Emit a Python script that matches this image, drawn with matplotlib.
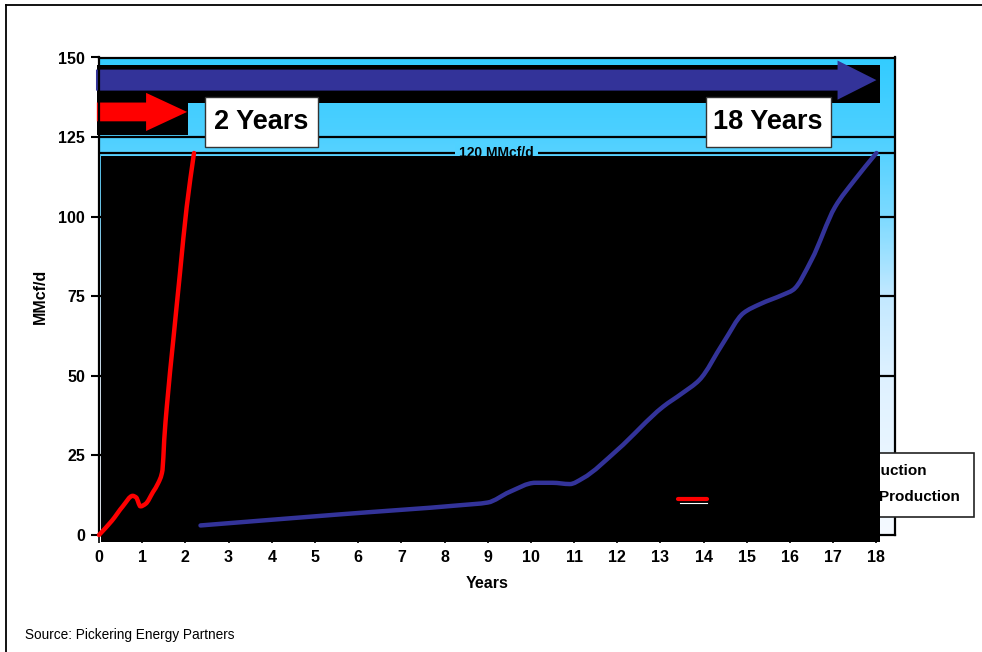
import numpy as np
import matplotlib
matplotlib.use("Agg")
import matplotlib.pyplot as plt
from matplotlib.patches import Rectangle, Polygon, PathPatch
from matplotlib.path import Path
from matplotlib.colors import LinearSegmentedColormap
from matplotlib.lines import Line2D

# Production ramp to 120 MMcf/d (year, MMcf/d)
years_fast = [0.0, 0.3, 0.55, 0.78, 0.86, 0.96, 1.08, 1.25, 1.37, 1.47, 1.51, 1.57,
              1.72, 1.875, 2.03, 2.2]
rate_fast = [0.0, 4.5, 9.0, 12.3, 11.8, 9.0, 9.8, 13.5, 16.3, 20.4, 29.9, 40.3,
             61.3, 82.3, 103.0, 120.0]

years_slow = [2.35, 5.5, 8.4, 9.0, 9.5, 10.1, 10.5, 10.9, 11.2, 12.0, 13.06, 13.5,
              13.9, 14.45, 14.92, 15.3, 15.84, 16.07, 16.5, 17.04, 17.5, 18.0]
rate_slow = [3.0, 6.4, 9.4, 10.2, 13.5, 16.4, 16.4, 16.0, 17.8, 26.7, 40.3, 44.5,
             48.7, 60.3, 69.7, 72.5, 75.5, 77.0, 86.5, 103.0, 111.6, 120.0]

x_ticks = list(range(0, 19))
y_ticks = [0, 25, 50, 75, 100, 125, 150]
span_years = [2, 18]
span_labels = ["2 Years", "18 Years"]
target_rate = 120
target_label = "120 MMcf/d"
legend_labels = ["Barnett Shale Production", "Haynesville Shale Production"]
source_text = "Source: Pickering Energy Partners"

RED = "#FF0000"
BLUE = "#333399"
FONT = ["Liberation Sans", "DejaVu Sans"]
W, H = 982, 652


def fx(px):
    return px / W


def fy(py):
    return 1 - py / H


def smooth_path(xs, ys):
    """Shape-preserving cubic bezier through the points (smoothed line)."""
    x = np.asarray(xs, float)
    y = np.asarray(ys, float)
    h = np.diff(x)
    d = np.diff(y) / h
    n = len(x)
    m = np.zeros(n)
    m[0], m[-1] = d[0], d[-1]
    for i in range(1, n - 1):
        if d[i - 1] * d[i] <= 0:
            m[i] = 0.0
        else:
            w1 = 2 * h[i] + h[i - 1]
            w2 = h[i] + 2 * h[i - 1]
            m[i] = (w1 + w2) / (w1 / d[i - 1] + w2 / d[i])
    verts = [(x[0], y[0])]
    codes = [Path.MOVETO]
    for i in range(n - 1):
        verts += [(x[i] + h[i] / 3, y[i] + m[i] * h[i] / 3),
                  (x[i + 1] - h[i] / 3, y[i + 1] - m[i + 1] * h[i] / 3),
                  (x[i + 1], y[i + 1])]
        codes += [Path.CURVE4] * 3
    return Path(verts, codes)


fig = plt.figure(figsize=(W / 100, H / 100), dpi=100)
fig.patch.set_facecolor("white")

ax = fig.add_axes([fx(99), fy(535), fx(895) - fx(99), fy(57.5) - fy(535)])
XMAX = 18.43
ax.set_xlim(0, XMAX)
ax.set_ylim(0, 150)

# gradient plot-area fill
bg = LinearSegmentedColormap.from_list(
    "bg",
    [(0.0, (245 / 255, 250 / 255, 1.0)),
     (1 / 3, (222 / 255, 241 / 255, 1.0)),
     (0.5, (195 / 255, 233 / 255, 1.0)),
     (2 / 3, (125 / 255, 218 / 255, 1.0)),
     (5 / 6, (78 / 255, 208 / 255, 1.0)),
     (1.0, (51 / 255, 204 / 255, 1.0))])
grad = np.linspace(0, 1, 300).reshape(-1, 1)
ax.imshow(grad, extent=[0, XMAX, 0, 150], origin="lower", aspect="auto",
          cmap=bg, zorder=0, interpolation="bilinear")

# horizontal gridlines and target line
for yv in y_ticks[1:-1]:
    ax.axhline(yv, color="black", lw=1.6, zorder=1)
ax.axhline(target_rate, color="black", lw=1.6, zorder=1)
ax.text(9.2, target_rate, target_label, ha="center", va="center", fontsize=10,
        fontweight="bold", family=FONT, zorder=1.2,
        bbox=dict(boxstyle="square,pad=0.3", fc=(80 / 255, 209 / 255, 1.0), ec="none"))

# black chart-area fill
ax.add_patch(Rectangle((0.05, -2.2), 18.03, 121.4, fc="black", ec="none",
                       zorder=2.6, clip_on=False))

# span arrows with their dark backing
ax.add_patch(Rectangle((-0.05, 135.8), 18.13, 12.0, fc="black", ec="none",
                       zorder=1.5, clip_on=False))
ax.add_patch(Rectangle((-0.05, 125.8), 2.11, 22.0, fc="black", ec="none",
                       zorder=1.5, clip_on=False))


def block_arrow(x0, tip, yc, shaft_half, head_half, head_len, color):
    base = tip - head_len
    pts = [(x0, yc - shaft_half), (base, yc - shaft_half), (base, yc - head_half),
           (tip, yc), (base, yc + head_half), (base, yc + shaft_half),
           (x0, yc + shaft_half)]
    ax.add_patch(Polygon(pts, closed=True, fc=color, ec="none", zorder=1.6,
                         clip_on=False))


block_arrow(-0.07, span_years[1], 142.9, 3.3, 6.15, 0.9, BLUE)
block_arrow(-0.05, span_years[0] + 0.04, 132.9, 2.95, 6.0, 0.95, RED)

# span label boxes
for (x0, x1), lab in zip([(2.45, 5.07), (14.05, 16.94)], span_labels):
    ax.add_patch(Rectangle((x0, 122.0), x1 - x0, 15.7, fc="white", ec="#333333",
                           lw=1, zorder=3))
    ax.text((x0 + x1) / 2, 129.6, lab, ha="center", va="center", fontsize=19.5,
            fontweight="bold", family=FONT, zorder=3.1)

# legend box (partly under the black area)
ax.add_patch(Rectangle((fx(670), fy(517)), fx(974) - fx(670), fy(453) - fy(517),
                       transform=fig.transFigure, fc="white", ec="#222222", lw=1.2,
                       zorder=2.55, clip_on=False))
ax.text(fx(927), fy(471), legend_labels[0], transform=fig.transFigure, ha="right",
        va="center", fontsize=11, fontweight="bold", family=FONT, zorder=2.56)
ax.text(fx(960), fy(497), legend_labels[1], transform=fig.transFigure, ha="right",
        va="center", fontsize=11, fontweight="bold", family=FONT, zorder=2.56)
ax.plot([13.45, 14.07], [10.1, 10.1], color="white", lw=0.8, zorder=3.9)
ax.plot([13.4, 14.07], [11.3, 11.3], color=RED, lw=3, solid_capstyle="round",
        zorder=4)

# production curves
ax.add_patch(PathPatch(smooth_path(years_slow, rate_slow), fc="none", ec=BLUE,
                       lw=3.2, capstyle="round", joinstyle="round", zorder=4,
                       clip_on=False))
ax.add_patch(PathPatch(smooth_path(years_fast, rate_fast), fc="none", ec=RED,
                       lw=3.2, capstyle="round", joinstyle="round", zorder=4,
                       clip_on=False))

# axes styling
for sp in ax.spines.values():
    sp.set_linewidth(1.6)
    sp.set_color("black")
ax.set_xticks(x_ticks)
ax.set_yticks(y_ticks)
ax.tick_params(axis="y", length=6, width=1.5, pad=4, direction="out")
ax.tick_params(axis="x", length=6, width=1.2, pad=5, direction="out")
for lab in ax.get_xticklabels() + ax.get_yticklabels():
    lab.set_fontweight("bold")
    lab.set_fontsize(11.5)
    lab.set_family(FONT)

fig.text(fx(487), fy(584), "Years", ha="center", va="center", fontsize=11.5,
         fontweight="bold", family=FONT)
fig.text(fx(40), fy(296), "MMcf/d", ha="center", va="center", rotation=90,
         fontsize=11.5, fontweight="bold", family=FONT)
fig.text(fx(25), fy(635), source_text, ha="left", va="center", fontsize=9.8,
         family=["Liberation Sans Narrow", "Liberation Sans", "DejaVu Sans"])

# outer frame (left and top edges)
fig.add_artist(Line2D([fx(6), fx(6)], [0, fy(5)], transform=fig.transFigure,
                      color="black", lw=1.3))
fig.add_artist(Line2D([fx(6), 1], [fy(5), fy(5)], transform=fig.transFigure,
                      color="black", lw=1.3))

fig.savefig("out.png", dpi=100)
